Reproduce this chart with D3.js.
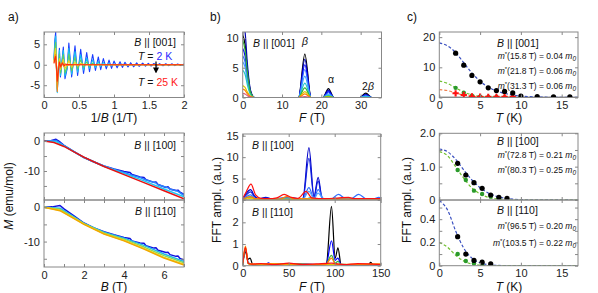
<!DOCTYPE html>
<html lang="en">
<head>
<meta charset="UTF-8">
<title>dHvA oscillations, FFT spectra and effective masses</title>
<script src="https://d3js.org/d3.v7.min.js"></script>
<style>
  body { margin: 0; background: #fff; }
  svg { font-family: "Liberation Sans", Arial, sans-serif; }
  .tick text { font-size: 11px; fill: #222; }
  .tick line { stroke: #888; }
  .lbl { font-size: 10.5px; fill: #111; }
  .title { font-size: 12px; fill: #111; }
  .mass { font-size: 8.5px; fill: #111; }
</style>
</head>
<body>
<div id="chart"></div>
<script>
// ---------- a) top: oscillatory M vs 1/B, B || [001] ----------
const oscColors = ["#1a3cff", "#18c0f0", "#60d060", "#f0d020", "#ff8a10", "#ff2a10"];
const osc2K = [[0.143,1.5],[0.155,6.0],[0.167,8.0],[0.18,-2],[0.19,-6.5],[0.205,-1],[0.22,4.0],[0.235,-3.0],[0.276,4.3],[0.30,-3.4],[0.33,-1],[0.355,5.3],[0.395,-3.0],[0.443,4.6],[0.48,-2.6],[0.524,3.8],[0.565,-2.1],[0.61,3.0],[0.65,-1.7],[0.695,2.5],[0.735,-1.4],[0.776,1.9],[0.81,-1.2],[0.848,1.5],[0.89,-1.0],[0.929,1.15],[0.965,-0.9],[1.0,0.9],[1.045,-0.75],[1.086,0.74],[1.12,-0.65],[1.157,0.6],[1.2,-0.55],[1.238,0.5],[1.28,-0.5],[1.324,0.45],[1.36,-0.4],[1.41,0.4],[1.45,-0.35],[1.49,0.35],[1.53,-0.3],[1.57,0.3],[1.61,-0.3],[1.65,0.28],[1.7,-0.25],[1.74,0.25],[1.78,-0.22],[1.83,0.22],[1.87,-0.2],[1.91,0.2],[1.95,-0.18],[2.0,0.15]];
const osc4K = [[0.143,1.2],[0.155,5],[0.167,7.0],[0.18,-2],[0.19,-6.8],[0.205,-1],[0.22,3.5],[0.235,-2.6],[0.276,3.5],[0.30,-2.8],[0.33,-0.8],[0.355,4.0],[0.395,-2.3],[0.443,3.2],[0.48,-1.8],[0.524,2.4],[0.565,-1.3],[0.61,1.7],[0.65,-0.9],[0.695,1.2],[0.735,-0.7],[0.776,0.8],[0.81,-0.5],[0.848,0.55],[0.89,-0.35],[0.929,0.35],[0.965,-0.25],[1.0,0.2],[1.05,-0.1],[1.1,0.1],[1.2,0],[2.0,0]];
const osc6K = [[0.143,1],[0.155,4],[0.167,5.5],[0.18,-1.5],[0.19,-6.0],[0.205,-0.8],[0.22,2.6],[0.235,-2.0],[0.276,2.5],[0.30,-2.0],[0.33,-0.5],[0.355,2.6],[0.395,-1.5],[0.443,1.8],[0.48,-1.0],[0.524,1.2],[0.565,-0.6],[0.61,0.7],[0.65,-0.35],[0.695,0.4],[0.735,-0.2],[0.776,0.2],[0.85,0],[2,0]];
const osc10K = [[0.143,0.8],[0.155,3],[0.167,4],[0.18,-1.5],[0.19,-5.5],[0.205,-0.5],[0.22,1.5],[0.235,-1.2],[0.276,1.3],[0.30,-1.0],[0.355,1.0],[0.395,-0.6],[0.443,0.6],[0.48,-0.3],[0.524,0.3],[0.6,0],[2,0]];
const osc15K = [[0.143,0.5],[0.155,2.0],[0.167,2.5],[0.18,-2],[0.19,-6.5],[0.205,-1.5],[0.22,0.8],[0.235,-0.8],[0.26,0.6],[0.28,-0.4],[0.3,0.3],[0.33,-0.2],[0.4,0],[2,0]];
const osc25K = [[0.143,0.3],[0.155,1.5],[0.167,2.0],[0.18,-1],[0.19,-4.0],[0.205,-1.5],[0.22,0.6],[0.24,-0.5],[0.26,0.4],[0.29,-0.2],[0.33,0.1],[0.4,0],[2,0]];

// ---------- a) M vs B ----------
const m100Colors = ["#1010e0", "#2a80ff", "#20c8f0", "#e81010"];
const m100Blue = [[0,0],[0.3,0],[0.6,0.6],[0.8,-0.3],[1.0,-1.4],[1.5,-3.5],[2,-5.5],[2.5,-7],[3,-8.3],[3.5,-9.3],[4,-10.2],[4.3,-10.5],[4.4,-11.2],[4.8,-12],[5.0,-12.2],[5.1,-12.9],[5.5,-13.8],[5.6,-13.7],[5.7,-14.5],[6.1,-15.5],[6.2,-15.3],[6.3,-16.0],[6.6,-16.5],[6.7,-16.4],[6.8,-17.1],[7,-17.8]];
const m100Light = [[0,0],[0.6,0.2],[1,-1.5],[2,-5.5],[3,-8.4],[4,-10.5],[4.4,-11.4],[4.8,-12.2],[5.1,-13.0],[5.6,-14.0],[5.7,-14.6],[6.2,-15.6],[6.3,-16.1],[6.7,-16.8],[7,-18.2]];
const m100Cyan = [[0,0],[0.6,-0.2],[1,-1.6],[2,-5.5],[3,-8.4],[4,-10.8],[5,-13.3],[6,-16.0],[7,-18.6]];
const m100Red = [[0,0],[0.5,-0.5],[1,-1.8],[1.5,-3.6],[2,-5.4],[3,-8.5],[4,-11.2],[5,-13.9],[6,-16.6],[7,-19.3]];
const m110Colors = ["#1010e0", "#20b4f0", "#80dc60", "#f0d020", "#f0a800"];
const m110Blue = [[0,0],[0.4,0.1],[0.8,0.5],[1.0,-0.5],[1.5,-2.5],[2,-4.6],[2.5,-6],[3,-7.1],[3.5,-8],[4,-8.8],[4.3,-9.1],[4.4,-9.8],[4.8,-10.4],[5.0,-10.5],[5.1,-11.2],[5.5,-11.9],[5.6,-11.8],[5.7,-12.5],[6.1,-13.2],[6.2,-13.1],[6.3,-13.8],[6.6,-14.3],[6.7,-14.2],[6.8,-14.9],[7,-15.4]];
const m110Cyan = [[0,0],[0.8,-0.3],[1.5,-2.8],[2,-4.7],[3,-7.3],[4,-9.0],[5,-11.1],[6,-13.6],[7,-15.8]];
const m110Green = [[0,0],[0.8,-0.6],[1.5,-3],[2,-4.8],[3,-7.5],[4,-9.3],[5,-11.6],[6,-14.1],[7,-16.2]];
const m110Yellow = [[0,0],[0.8,-0.9],[1.5,-3.2],[2,-4.9],[3,-7.7],[4,-9.6],[5,-12.0],[6,-14.6],[7,-16.6]];
const m110Orange = [[0,0],[0.8,-1.0],[1.5,-3.3],[2,-5.0],[3,-7.8],[4,-9.8],[5,-12.2],[6,-14.8],[7,-16.8]];

// ---------- b) FFT, B || [001] ----------
const fft001Colors = ["#000000", "#0000b0", "#0000ff", "#2a6aff", "#3fa0ff", "#20c8c8", "#30b030", "#d8c800", "#ff8000", "#d9587a"];
const fft001Black  = [[0,10.5],[0.6,8.9],[1.2,4.7],[2,1.0],[3,0],[14.2,0],[15.8,7.3],[17.4,0],[20.4,0],[21.8,1.5],[23.2,0],[29.8,0],[31.3,0.75],[32.8,0],[35.5,0]];
const fft001DkBlue = [[0,12.5],[0.6,11],[1.2,5.6],[2,1.2],[3,0],[14.2,0],[15.8,6.4],[17.4,0],[20.4,0],[21.8,1.25],[23.2,0],[29.8,0],[31.3,0.55],[32.8,0],[35.5,0]];
const fft001Blue   = [[0,8.2],[0.6,7.0],[1.2,3.7],[2,0.8],[3,0],[14.2,0],[15.8,5.5],[17.4,0],[20.4,0],[21.8,1.0],[23.2,0],[29.8,0],[31.3,0.4],[32.8,0],[35.5,0]];
const fft001Blue2  = [[0,7.0],[0.6,6.0],[1.2,3.2],[2,0.7],[3,0],[14.2,0],[15.8,4.7],[17.4,0],[20.4,0],[21.8,0.8],[23.2,0],[29.8,0],[31.3,0.3],[32.8,0],[35.5,0]];
const fft001Light  = [[0,6.0],[0.6,5.1],[1.2,2.7],[2,0.6],[3,0],[14.2,0],[15.8,3.6],[17.4,0],[20.4,0],[21.8,0.55],[23.2,0],[29.8,0],[31.3,0.2],[32.8,0],[35.5,0]];
const fft001Cyan   = [[0,4.6],[0.6,3.9],[1.2,2.1],[2,0.5],[3,0],[14.2,0],[15.8,2.4],[17.4,0],[20.4,0],[21.8,0.35],[23.2,0],[29.8,0],[31.3,0.1],[32.8,0],[35.5,0]];
const fft001Green  = [[0,9.6],[0.6,8.0],[1.2,4.2],[2,0.9],[3,0],[14.2,0],[15.8,1.6],[17.4,0],[20.4,0],[21.8,0.2],[23.2,0],[35.5,0]];
const fft001Yellow = [[0,2.0],[0.6,1.7],[1.2,0.9],[2,0.2],[3,0],[14.2,0],[15.8,1.0],[17.4,0],[20.4,0],[21.8,0.1],[23.2,0],[35.5,0]];
const fft001Orange = [[0,1.4],[0.6,1.2],[1.2,0.6],[2,0.15],[3,0],[14.2,0],[15.8,0.6],[17.4,0],[35.5,0]];
const fft001Red    = [[0,0.7],[0.6,0.6],[1.2,0.3],[2,0.07],[3,0],[14.2,0],[15.8,0.15],[17.4,0],[35.5,0]];

// ---------- b) FFT, B || [100] ----------
const fft100Colors = ["#0000c8", "#1020e0", "#3070ff", "#50a0ff", "#20d0d0", "#e8d000", "#ff8000", "#ff1010"];
const fft100Db1 = [[0,0.3],[4,1.6],[8.5,2.4],[13,0.9],[18,0.3],[25,0.6],[32,0.2],[45,0.3],[55,0.5],[63,0.2],[65.5,0.4],[72,12.2],[77.5,0.8],[82,5.3],[86.5,0.3],[95,0.2],[150,0.1]];
const fft100Db2 = [[0,0.2],[4,1.2],[8.5,1.9],[13,0.7],[18,0.3],[26,0.5],[34,0.2],[65.5,0.3],[72,9.7],[77.5,0.7],[82,4.4],[86.5,0.3],[150,0.1]];
const fft100Lb1 = [[0,0.1],[8.5,1.2],[15,0.2],[30,0.2],[48,0.6],[58,0.2],[65.5,0.3],[72,2.9],[77.5,0.4],[82,2.4],[88,0.3],[96,0.2],[104,1.3],[112,0.3],[118,0.3],[126,1.3],[135,0.2],[141,0.2],[148,0.6],[150,0.5]];
const fft100Lb2 = [[0,0.1],[8.5,0.8],[15,0.2],[65.5,0.2],[72,2.0],[77.5,0.3],[82,1.6],[88,0.2],[150,0.1]];
const fft100Cyan = [[0,0.1],[8,0.6],[15,0.2],[70,0.3],[74,0.6],[78,0.2],[150,0.1]];
const fft100Yellow = [[0,0.05],[8,0.4],[14,0.1],[60,0.15],[150,0.1]];
const fft100Orange = [[0,0.1],[8,0.8],[14,0.3],[40,0.2],[48,0.8],[56,0.3],[150,0.2]];
const fft100Red = [[0,0.3],[4,2.0],[9,3.7],[14,1.2],[20,0.4],[28,0.3],[37,0.5],[45,1.3],[53,0.6],[60,0.4],[69,2.0],[75,0.5],[90,0.3],[105,0.5],[115,0.6],[122,0.3],[150,0.3]];

// ---------- b) FFT, B || [110] ----------
const fft110Colors = ["#000000", "#0000ff", "#40b040", "#e0c000", "#ff8000", "#ff1010"];
const fft110Black = [[0,0.05],[3,0.65],[5.5,0.3],[8,0.35],[11,0.05],[30,0.06],[60,0.05],[88,0.06],[91,0.1],[96.5,2.74],[100.5,0.35],[103.5,0.82],[107,0.06],[120,0.05],[137,0.05],[139,0.15],[142,0.05],[150,0.05]];
const fft110Blue = [[0,0.05],[3,0.75],[6,0.15],[10,0.05],[25,0.06],[28,0.13],[31,0.05],[60,0.08],[88,0.05],[91,0.1],[96.5,1.15],[100.5,0.25],[103.5,0.35],[107,0.05],[150,0.04]];
const fft110Green = [[0,0.05],[3,0.8],[6,0.1],[10,0.05],[50,0.08],[90,0.05],[96.5,0.48],[100.5,0.12],[103.5,0.2],[107,0.05],[150,0.05]];
const fft110Yellow = [[0,0.05],[3,0.85],[6,0.1],[10,0.05],[150,0.06]];
const fft110Orange = [[0,0.05],[3,0.9],[6,0.1],[10,0.08],[30,0.1],[90,0.05],[96.5,0.35],[101,0.05],[150,0.08]];
const fft110Red = [[0,0.05],[3,0.83],[6,0.1],[10,0.07],[20,0.1],[35,0.05],[50,0.12],[65,0.05],[80,0.08],[96.5,0.12],[110,0.05],[125,0.1],[150,0.05]];

// ---------- c) FFT amplitude vs T ----------
const temps001 = [2, 3, 4, 5, 6, 7, 8, 9, 10, 12, 14, 16];
const amp001Beta = [14.7, 10.7, 7.3, 5.2, 3.2, 2.3, 2.0, 1.5, 0.5, 0.3, 0.25, 0.2];
const temps001b = [2, 3, 4, 5, 6, 7, 8, 9];
const amp001Alpha = [3.2, 1.6, 0.6, 0.3, 0.2, 0.15, 0.1, 0.1];
const amp001TwoBeta = [1.4, 0.85, 0.35, 0.25, 0.2, 0.2, 0.2, 0.2];
const fit001Beta = [[0,18.1],[1,17.1],[2,14.9],[3,11.5],[4,8.1],[5,5.4],[6,3.5],[7,2.2],[8,1.35],[9,0.8],[10,0.5],[11,0.3],[12,0.18],[14,0.06],[17,0.01]];
const fit001Alpha = [[0,5.4],[1,4.7],[2,3.2],[3,1.8],[4,0.9],[5,0.4],[6,0.18],[7,0.08],[8,0.03],[10,0],[17,0]];
const fit001TwoBeta = [[0,2.6],[1,2.3],[2,1.5],[3,0.8],[4,0.4],[5,0.18],[6,0.08],[7,0.03],[9,0],[17,0]];

const temps100 = [2.25, 3.25, 4.25, 5.25, 6.3, 7.3, 8.3];
const amp100a = [1.1, 0.75, 0.52, 0.35, 0.15, 0.08, 0.05];
const amp100b = [0.9, 0.6, 0.28, 0.18, 0.1, 0.05, 0.03];
const fit100a = [[0,1.53],[1,1.45],[2,1.22],[3,0.9],[4,0.6],[5,0.37],[6,0.21],[7,0.11],[8,0.055],[9,0.025],[10,0.01],[17,0]];
const fit100b = [[0,1.45],[1,1.33],[2,1.0],[3,0.65],[4,0.36],[5,0.18],[6,0.08],[7,0.035],[8,0.013],[9,0],[17,0]];

const temps110 = [2.25, 3.25, 4.25, 5.25, 6.3];
const amp110a = [0.25, 0.10, 0.045, 0.03, 0.015];
const temps110b = [2.25, 3.25, 4.25, 5.25];
const amp110b = [0.1, 0.04, 0.018, 0.008];
const fit110a = [[0,0.56],[1,0.48],[2,0.3],[3,0.15],[4,0.065],[5,0.025],[6,0.009],[7,0.003],[8,0],[17,0]];
const fit110b = [[0,0.2],[1,0.16],[2,0.09],[3,0.04],[4,0.015],[5,0.005],[6,0],[17,0]];

// ---------- drawing ----------
const svg = d3.select('#chart').append('svg')
    .attr('width', 598)
    .attr('height', 293);

let clipCount = 0;
function makePanel(box, xDomain, yDomain, xTicks, yTicks, xFmt, yFmt) {
    const x = d3.scaleLinear().domain(xDomain).range([box.l, box.r]);
    const y = d3.scaleLinear().domain(yDomain).range([box.b, box.t]);
    const id = 'clip' + (clipCount++);
    svg.append('clipPath').attr('id', id).append('rect')
        .attr('x', box.l).attr('y', box.t)
        .attr('width', box.r - box.l).attr('height', box.b - box.t);
    const plot = svg.append('g').attr('clip-path', `url(#${id})`);
    const none = () => '';

    const bottom = svg.append('g').attr('transform', `translate(0,${box.b})`)
        .call(d3.axisBottom(x).tickValues(xTicks).tickSize(-3).tickPadding(4).tickFormat(xFmt || none));
    const top = svg.append('g').attr('transform', `translate(0,${box.t})`)
        .call(d3.axisTop(x).tickValues(xTicks).tickSize(-3).tickFormat(none));
    const left = svg.append('g').attr('transform', `translate(${box.l},0)`)
        .call(d3.axisLeft(y).tickValues(yTicks).tickSize(-3).tickPadding(4).tickFormat(yFmt || none));
    const right = svg.append('g').attr('transform', `translate(${box.r},0)`)
        .call(d3.axisRight(y).tickValues(yTicks).tickSize(-3).tickFormat(none));
    [bottom, top, left, right].forEach(a => a.select('.domain').remove());
    svg.append('rect')
        .attr('x', box.l).attr('y', box.t)
        .attr('width', box.r - box.l).attr('height', box.b - box.t)
        .attr('fill', 'none').attr('stroke', '#888').attr('stroke-width', 1);
    return {x, y, plot};
}

function drawLines(p, series, colors, width, curve) {
    const line = d3.line().x(d => p.x(d[0])).y(d => p.y(d[1])).curve(curve || d3.curveLinear);
    series.forEach((s, i) => {
        p.plot.append('path')
            .datum(s)
            .attr('fill', 'none')
            .attr('stroke', colors[i])
            .attr('stroke-width', width)
            .attr('stroke-linejoin', 'round')
            .attr('d', line);
    });
}

const str = d => String(d);
const evenLabel = d => (d % 2 === 0 ? String(d) : '');
const tenLabel = d => (d % 10 === 0 ? String(d) : '');

// panel letters
[['a)', 8], ['b)', 210], ['c)', 407]].forEach(([t, px]) => {
    svg.append('text').attr('x', px).attr('y', 21).attr('class', 'title').text(t);
});

// label helpers
function bLabel(px, py, dir, anchor) {
    const t = svg.append('text').attr('class', 'lbl').attr('x', px).attr('y', py).attr('text-anchor', anchor || 'start');
    t.append('tspan').style('font-style', 'italic').text('B');
    t.append('tspan').text(' || ' + dir);
}
function xTitle(cx, cy, v, unit) {
    const t = svg.append('text').attr('class', 'title').attr('x', cx).attr('y', cy).attr('text-anchor', 'middle');
    if (v === '1/B') {
        t.append('tspan').text('1/');
        t.append('tspan').style('font-style', 'italic').text('B');
    } else {
        t.append('tspan').style('font-style', 'italic').text(v);
    }
    t.append('tspan').text(' ' + unit);
}
function yTitle(cx, cy, parts) {
    const t = svg.append('text').attr('class', 'title')
        .attr('transform', `translate(${cx},${cy}) rotate(-90)`).attr('text-anchor', 'middle');
    parts.forEach(([s, it]) => t.append('tspan').style('font-style', it ? 'italic' : 'normal').text(s));
}
function massLabel(px, py, field, mass) {
    const t = svg.append('text').attr('class', 'mass').attr('x', px).attr('y', py).attr('text-anchor', 'end');
    t.append('tspan').style('font-style', 'italic').text('m');
    t.append('tspan').attr('dy', -3).style('font-size', '6px').text('*');
    t.append('tspan').attr('dy', 3).text('(' + field + ' T) = ' + mass + ' ');
    t.append('tspan').style('font-style', 'italic').text('m');
    t.append('tspan').attr('dy', 2).style('font-size', '6.5px').style('font-style', 'italic').text('0');
}

// ---- a) top
const aTop = makePanel({l: 44, r: 184, t: 32, b: 97.5}, [0, 2], [-8, 8],
    [0, 0.5, 1, 1.5, 2], [-5, 0, 5], str, str);
drawLines(aTop, [osc2K, osc4K, osc6K, osc10K, osc15K, osc25K], oscColors, 1.1);
bLabel(176, 46, '[001]', 'end');
const tHi = svg.append('text').attr('class', 'lbl').attr('x', 138).attr('y', 60);
tHi.append('tspan').style('font-style', 'italic').text('T');
tHi.append('tspan').text(' = ');
tHi.append('tspan').attr('fill', '#2a2aff').text('2 K');
const tLo = svg.append('text').attr('class', 'lbl').attr('x', 138).attr('y', 86);
tLo.append('tspan').style('font-style', 'italic').text('T');
tLo.append('tspan').text(' = ');
tLo.append('tspan').attr('fill', '#ff2020').text('25 K');
svg.append('defs').append('marker').attr('id', 'arrow')
    .attr('viewBox', '0 0 10 10').attr('refX', 5).attr('refY', 5)
    .attr('markerWidth', 5).attr('markerHeight', 5).attr('orient', 'auto')
    .append('path').attr('d', 'M0,0 L10,5 L0,10 z').attr('fill', '#000');
svg.append('line')
    .attr('x1', aTop.x(1.6)).attr('x2', aTop.x(1.6))
    .attr('y1', aTop.y(0.8)).attr('y2', aTop.y(-1.4))
    .attr('stroke', '#000').attr('stroke-width', 1.2).attr('marker-end', 'url(#arrow)');
xTitle(114, 122, '1/B', '(1/T)');

// ---- a) M vs B
const aMid = makePanel({l: 44, r: 184, t: 133, b: 200}, [0, 7], [-19.7, 2.7],
    [0, 1, 2, 3, 4, 5, 6, 7], [-15, -10, -5, 0], null, tenLabel);
drawLines(aMid, [m100Blue, m100Light, m100Cyan, m100Red], m100Colors, 1.5);
bLabel(176, 149, '[100]', 'end');
const aBot = makePanel({l: 44, r: 184, t: 200, b: 267}, [0, 7], [-17.4, 2.1],
    [0, 1, 2, 3, 4, 5, 6, 7], [-15, -10, -5, 0], evenLabel, tenLabel);
drawLines(aBot, [m110Blue, m110Cyan, m110Green, m110Yellow, m110Orange], m110Colors, 1.5);
bLabel(176, 215, '[110]', 'end');
xTitle(114, 291, 'B', '(T)');
yTitle(13, 196, [['M', true], [' (emu/mol)', false]]);

// ---- b) top
const bTop = makePanel({l: 242.7, r: 381.5, t: 32, b: 97.5}, [0, 35.3], [0, 11],
    [0, 10, 20, 30], [0, 5, 10], str, str);
drawLines(bTop, [fft001Black, fft001DkBlue, fft001Blue, fft001Blue2, fft001Light, fft001Cyan,
    fft001Green, fft001Yellow, fft001Orange, fft001Red], fft001Colors, 1.2, d3.curveMonotoneX);
bLabel(253, 47, '[001]');
svg.append('text').attr('class', 'lbl').attr('x', 305).attr('y', 45).attr('text-anchor', 'middle')
    .style('font-style', 'italic').text('β');
svg.append('text').attr('class', 'lbl').attr('x', 331).attr('y', 83).attr('text-anchor', 'middle')
    .text('α');
const tb = svg.append('text').attr('class', 'lbl').attr('x', 368).attr('y', 90).attr('text-anchor', 'middle');
tb.append('tspan').text('2');
tb.append('tspan').style('font-style', 'italic').text('β');
xTitle(312, 122, 'F', '(T)');

// ---- b) FFT [100] / [110]
const bMid = makePanel({l: 242.7, r: 380.7, t: 134, b: 200}, [0, 150], [0, 15.4],
    [0, 50, 100, 150], [0, 5, 10, 15], null, str);
drawLines(bMid, [fft100Db1, fft100Db2, fft100Lb1, fft100Lb2, fft100Cyan, fft100Yellow,
    fft100Orange, fft100Red], fft100Colors, 1.2, d3.curveMonotoneX);
bLabel(252, 149, '[100]');
const bBot = makePanel({l: 242.7, r: 380.7, t: 200, b: 265.7}, [0, 150], [0, 3.03],
    [0, 50, 100, 150], [0, 1, 2], str, str);
drawLines(bBot, [fft110Black, fft110Blue, fft110Green, fft110Yellow, fft110Orange, fft110Red],
    fft110Colors, 1.2, d3.curveMonotoneX);
bLabel(252, 216, '[110]');
xTitle(312, 291, 'F', '(T)');
yTitle(221, 200, [['FFT ampl. (a.u.)', false]]);

// ---- c) effective masses
function dashed(p, data, color) {
    const line = d3.line().x(d => p.x(d[0])).y(d => p.y(d[1])).curve(d3.curveMonotoneX);
    p.plot.append('path').datum(data)
        .attr('fill', 'none').attr('stroke', color).attr('stroke-width', 1.2)
        .attr('stroke-dasharray', '3,2').attr('d', line);
}
function dots(p, xs, ys, color, r) {
    p.plot.selectAll(null).data(xs.map((t, i) => [t, ys[i]])).enter().append('circle')
        .attr('cx', d => p.x(d[0])).attr('cy', d => p.y(d[1]))
        .attr('r', r).attr('fill', color);
}
function crosses(p, xs, ys, color) {
    p.plot.selectAll(null).data(xs.map((t, i) => [t, ys[i]])).enter().append('path')
        .attr('transform', d => `translate(${p.x(d[0])},${p.y(d[1])})`)
        .attr('d', d3.symbol(d3.symbolCross, 22))
        .attr('fill', color);
}

const cTop = makePanel({l: 439.3, r: 578, t: 32, b: 97.5}, [0, 17], [0, 21.7],
    [0, 5, 10, 15], [0, 10, 20], str, str);
cTop.plot.append('line')
    .attr('x1', cTop.x(0)).attr('x2', cTop.x(17)).attr('y1', cTop.y(0)).attr('y2', cTop.y(0))
    .attr('stroke', '#bbb').attr('stroke-width', 2.5);
dashed(cTop, fit001Beta, '#3a50c0');
dashed(cTop, fit001Alpha, '#70c030');
dashed(cTop, fit001TwoBeta, '#f08050');
dots(cTop, temps001b, amp001Alpha, '#2a9a2a', 2.2);
crosses(cTop, temps001b, amp001TwoBeta, '#ff1010');
dots(cTop, temps001, amp001Beta, '#000', 2.6);
bLabel(497, 47, '[001]');
massLabel(576, 59, '15.8', '0.04');
massLabel(576, 74, '21.8', '0.06');
massLabel(576, 89, '31.3', '0.06');
xTitle(509, 122, 'T', '(K)');

const fmt1 = d => (d === 0 ? '0' : d.toFixed(1));
const cMid = makePanel({l: 439.3, r: 578, t: 133.3, b: 200}, [0, 17], [0, 2],
    [0, 5, 10, 15], [0, 0.5, 1, 1.5, 2], null, d => (d % 1 === 0 ? fmt1(d) : ''));
dashed(cMid, fit100a, '#3a50c0');
dashed(cMid, fit100b, '#70c030');
dots(cMid, temps100, amp100b, '#2a9a2a', 2.2);
dots(cMid, temps100, amp100a, '#000', 2.6);
bLabel(497, 145, '[100]');
massLabel(576, 158, '72.8', '0.21');
massLabel(576, 173, '80.3', '0.25');

const cBot = makePanel({l: 439.3, r: 578, t: 200, b: 265.7}, [0, 17], [0, 0.565],
    [0, 5, 10, 15], [0, 0.1, 0.2, 0.3, 0.4, 0.5], str, d => (Math.round(d * 10) % 2 === 0 ? fmt1(d) : ''));
dashed(cBot, fit110a, '#3a50c0');
dashed(cBot, fit110b, '#70c030');
dots(cBot, temps110b, amp110b, '#2a9a2a', 2.2);
dots(cBot, temps110, amp110a, '#000', 2.6);
bLabel(497, 214, '[110]');
massLabel(576, 229, '96.5', '0.20');
massLabel(576, 246, '103.5', '0.22');
xTitle(509, 291, 'T', '(K)');
yTitle(411, 200, [['FFT ampl. (a.u.)', false]]);
</script>
</body>
</html>
